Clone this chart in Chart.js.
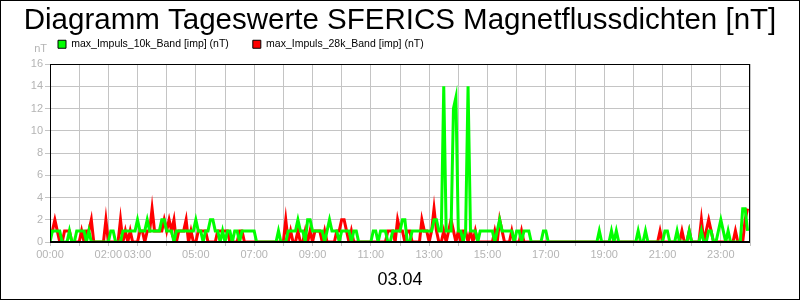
<!DOCTYPE html>
<html>
<head>
<meta charset="utf-8">
<script src="https://cdn.jsdelivr.net/npm/chart.js@4.4.1/dist/chart.umd.min.js"></script>
<style>
  html, body { margin: 0; padding: 0; background: #fff; }
</style>
</head>
<body>
<canvas id="myChart" width="800" height="300"></canvas>
<script>
// one value every 5 minutes, one row per hour
const impuls10k = [
  0,1,1,1,1,0,0,0,1,0,0,1,
  1,1,1,0,1,0,0,0,0,0,0,0,
  0,1,1,0,0,0,1,1,1,1,1,1,
  2,1,1,1,2,1,1,1,1,1,2,2,
  1,1,1,0,1,1,1,1,1,1,1,1,
  2,1,1,0,1,1,2,2,1,1,0,1,
  0,1,1,0,1,1,0,1,1,1,1,1,
  1,0,0,0,0,0,0,0,0,0,1,0,
  0,0,1,1,1,1,2,1,1,0,2,2,
  1,1,1,1,1,0,1,2,1,1,1,0,
  1,1,1,1,0,1,1,0,0,0,0,0,
  0,1,1,0,1,1,1,0,0,1,1,1,
  1,2,2,0,0,1,1,1,1,1,1,1,
  1,1,2,2,1,1,14,1,1,1,12,13,
  1,1,0,1,14,1,1,1,0,1,1,1,
  1,1,1,0,1,2,1,1,1,1,1,0,
  1,1,0,1,1,1,0,0,0,0,0,1,
  1,0,0,0,0,0,0,0,0,0,0,0,
  0,0,0,0,0,0,0,0,0,0,1,0,
  0,0,0,1,0,1,0,0,0,0,0,0,
  0,0,1,0,0,1,0,0,0,0,0,0,
  0,1,1,0,0,0,1,0,0,0,0,1,
  0,0,0,0,1,0,0,1,1,0,0,1,
  2,1,0,1,0,0,0,0,0,3,3,1
];

const impuls28k = [
  1,1,2,1,0,0,1,1,1,0,0,0,
  0,1,0,1,1,2,0,0,0,0,0,2,
  0,0,0,0,0,2,0,1,0,1,0,0,
  0,1,1,0,1,1,3,1,1,1,1,2,
  1,2,1,2,0,1,1,1,2,0,1,0,
  0,1,1,1,1,0,0,0,0,1,1,1,
  1,1,0,0,0,0,1,1,0,0,0,0,
  0,0,0,0,0,0,0,0,0,0,0,0,
  0,2,0,1,0,0,1,0,0,1,0,1,
  0,1,1,1,0,1,0,0,0,0,1,1,
  2,2,1,0,1,0,0,0,0,0,0,0,
  0,0,0,0,0,0,0,1,1,1,0,2,
  1,1,0,1,1,0,0,0,0,2,1,1,
  0,1,3,1,0,0,1,0,1,2,1,0,
  1,0,1,1,0,1,0,1,0,0,0,0,
  0,0,0,1,0,2,1,0,0,0,1,0,
  0,0,1,0,0,0,0,0,0,0,0,0,
  0,0,0,0,0,0,0,0,0,0,0,0,
  0,0,0,0,0,0,0,0,0,0,0,0,
  0,0,0,0,0,0,0,0,0,0,0,0,
  0,0,0,0,0,0,0,0,0,0,0,1,
  0,0,0,0,0,0,0,0,1,0,0,1,
  0,0,0,0,2,0,1,2,1,0,0,0,
  0,0,0,0,0,0,1,0,0,0,2,3
];

const labelHours = [0, 2, 3, 5, 7, 9, 11, 13, 15, 17, 19, 21, 23];
const seriesNames = ['max_Impuls_10k_Band [imp] (nT)', 'max_Impuls_28k_Band [imp] (nT)'];
const dayLabel = '03.04';

const gray = '#b4b4b4';
const gridGray = '#c4c4c4';
const fontFamily = '"Liberation Sans", Arial, sans-serif';
const legendGap = 24;

// x in hours
const toPoints = (values) => values.map((v, i) => ({ x: i / 12, y: v }));

const decorations = {
  id: 'decorations',
  afterLayout(chart) {
    // legend sits just above the plot, starting at x=58
    const lg = chart.legend;
    const w = lg.right - lg.left;
    lg.left = 58 - legendGap;
    lg.right = lg.left + w;
    lg.top = 39 - legendGap;
    lg.adjustHitBoxes();
  },
  afterDatasetsDraw(chart) {
    const { ctx, chartArea: a } = chart;
    ctx.save();
    ctx.strokeStyle = '#000';
    ctx.lineWidth = 1;
    ctx.strokeRect(a.left + 0.5, a.top + 0.5, a.right - a.left - 1, a.bottom - a.top);
    ctx.lineWidth = 2;
    ctx.beginPath();
    ctx.moveTo(a.left, a.bottom);
    ctx.lineTo(a.right, a.bottom);
    ctx.stroke();
    ctx.restore();
  },
  afterDraw(chart) {
    const { ctx, chartArea: a } = chart;
    ctx.save();
    ctx.strokeStyle = '#000';
    ctx.lineWidth = 1;
    ctx.strokeRect(0.5, 0.5, chart.width - 1, chart.height - 1);
    ctx.fillStyle = gray;
    ctx.font = '11px ' + fontFamily;
    ctx.textAlign = 'right';
    ctx.textBaseline = 'middle';
    ctx.fillText('nT', a.left - 3, a.top - 15);
    ctx.restore();
  }
};

const ctx = document.getElementById('myChart');
new Chart(ctx, {
  type: 'line',
  data: {
    datasets: [
      {
        label: seriesNames[0],
        data: toPoints(impuls10k),
        borderColor: '#00ff00',
        backgroundColor: '#00ff00',
        borderWidth: 3,
        pointRadius: 0,
        tension: 0,
        fill: false
      },
      {
        label: seriesNames[1],
        data: toPoints(impuls28k),
        borderColor: '#ff0000',
        backgroundColor: '#ff0000',
        borderWidth: 3,
        pointRadius: 0,
        tension: 0,
        fill: false
      }
    ]
  },
  options: {
    responsive: false,
    animation: false,
    devicePixelRatio: 1,
    layout: { padding: 0 },
    plugins: {
      title: {
        display: true,
        text: 'Diagramm Tageswerte SFERICS Magnetflussdichten [nT]',
        color: '#000',
        font: { family: fontFamily, size: 29.5, weight: 'normal', lineHeight: 1.2 },
        padding: { top: 3.3, bottom: 0 }
      },
      legend: {
        display: true,
        align: 'start',
        maxHeight: 25.3,
        labels: {
          boxWidth: 8,
          boxHeight: 8,
          padding: legendGap,
          color: '#000',
          font: { family: fontFamily, size: 10.5 },
          generateLabels: (chart) => chart.data.datasets.map((ds, i) => ({
            text: ds.label,
            fillStyle: ds.borderColor,
            strokeStyle: '#000',
            lineWidth: 1,
            datasetIndex: i
          }))
        }
      },
      tooltip: { enabled: false }
    },
    scales: {
      x: {
        type: 'linear',
        min: 0,
        max: 24,
        afterFit: (scale) => { scale.height = 58; },
        ticks: {
          stepSize: 1,
          autoSkip: false,
          maxRotation: 0,
          padding: 2,
          color: gray,
          font: { family: fontFamily, size: 11 },
          callback: (value) => labelHours.includes(value) ? String(value).padStart(2, '0') + ':00' : ''
        },
        grid: { color: gridGray, tickColor: gridGray, tickLength: 4 },
        border: { display: false },
        title: {
          display: true,
          text: dayLabel,
          color: '#000',
          font: { family: fontFamily, size: 18 },
          padding: { top: 0, bottom: 9 }
        }
      },
      y: {
        min: 0,
        max: 16,
        afterFit: (scale) => { scale.width = 50; },
        ticks: {
          stepSize: 2,
          padding: 2,
          color: gray,
          font: { family: fontFamily, size: 11 }
        },
        grid: { color: gridGray, tickColor: gridGray, tickLength: 5 },
        border: { display: false }
      },
      y2: {
        position: 'right',
        min: 0,
        max: 16,
        afterFit: (scale) => { scale.width = 50; },
        ticks: { display: false },
        grid: { display: false },
        border: { display: false }
      }
    }
  },
  plugins: [decorations]
});
</script>
</body>
</html>
